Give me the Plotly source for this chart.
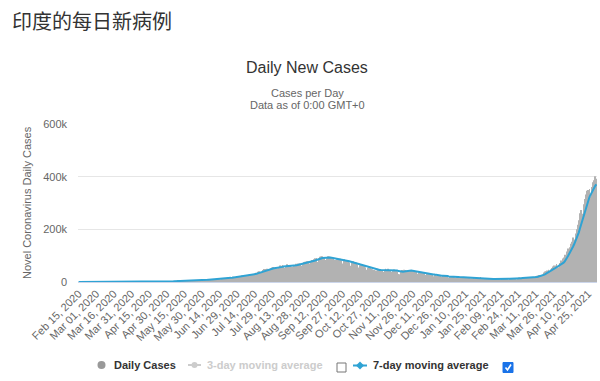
import plotly.graph_objects as go
import pandas as pd

# ---------------- data (daily new cases, India) ----------------
start_date = "2020-02-15"
cases_2020_02 = [0] * 15  # Feb 15 - Feb 29, 2020
cases_2020_03 = [0, 2, 1, 22, 2, 1, 3, 5, 9, 15, 8, 11, 9, 20, 11, 15, 23, 14, 38, 50,
                 86, 66, 103, 37, 121, 70, 160, 100, 82, 146, 309]
cases_2020_04 = [424, 486, 560, 579, 609, 484, 573, 565, 813, 871, 854, 758, 1243, 1031, 886,
                 1061, 922, 1371, 1580, 1239, 1537, 1292, 1667, 1408, 1835, 1607, 1568, 1902, 1705, 1801]
cases_2020_05 = [2396, 2564, 2952, 3656, 2971, 3602, 3344, 3339, 3175, 4311, 3592, 3562, 3726, 3991,
                 3808, 4794, 5050, 4628, 6147, 5553, 6088, 6654, 6767, 6977, 6535, 6387, 6566, 7466,
                 7964, 8380, 8392]
cases_2020_06 = [8171, 8909, 9304, 9851, 9887, 9971, 9983, 9987, 9985, 9996, 10956, 11458, 11929,
                 11502, 10667, 12881, 13586, 14516, 15413, 14821, 14933, 15968, 16922, 17296, 18552,
                 19906, 19459, 18522, 18653, 19148]
cases_2020_07 = [20903, 22771, 24850, 24248, 22252, 22752, 24879, 26506, 27114, 28637, 28701, 28498,
                 29429, 32695, 34956, 34884, 38902, 40425, 37148, 37724, 45720, 49310, 48916, 48661,
                 49931, 47703, 48513, 52123, 55079, 57118, 54735]
cases_2020_08 = [52972, 52050, 52509, 56282, 62538, 61537, 64399, 62064, 53601, 60963, 66999, 64553,
                 65002, 63490, 57981, 55079, 64531, 69652, 68898, 69878, 70488, 69239, 61408, 67151,
                 75760, 77266, 76472, 78761, 78512, 69921, 78357]
cases_2020_09 = [83883, 83341, 86432, 90632, 90802, 75809, 89706, 95735, 96551, 97570, 94372, 92071,
                 83809, 90123, 97894, 96424, 93337, 92605, 86961, 75083, 83347, 86508, 86052, 85362,
                 88600, 82170, 70589, 80472, 86821, 81484]
cases_2020_10 = [79476, 75829, 74442, 61267, 72049, 78524, 70496, 73272, 74383, 66732, 55342, 63509,
                 67708, 63371, 62212, 61871, 55722, 46790, 54044, 55839, 53370, 50129, 48585, 45148,
                 36470, 43893, 49881, 48648, 48268, 46963, 45231]
cases_2020_11 = [38310, 46253, 50210, 47638, 50356, 45674, 45903, 38073, 44281, 47905, 44879, 44684,
                 41100, 30548, 29163, 38617, 45576, 45882, 46232, 45209, 44059, 37975, 44376, 43082,
                 41322, 41810, 38772, 41468, 38575, 31118]
cases_2020_12 = [36604, 35551, 36595, 36652, 36011, 32981, 26567, 32080, 31521, 29398, 30006, 30254,
                 27071, 22065, 26382, 24010, 22890, 25152, 26624, 24337, 19556, 23950, 24712, 23067,
                 22273, 18732, 16432, 20021, 21821, 20549, 19079]
cases_2021_01 = [18177, 16505, 18088, 20346, 18139, 18222, 16311, 12584, 15968, 16946, 15158, 15590,
                 14849, 13788, 10064, 13823, 15223, 14545, 14256, 13203, 9102, 12689, 18855, 11666,
                 13083, 11039, 8635, 11427, 12899, 12408, 11713]
cases_2021_02 = [11024, 9110, 11067, 12923, 11610, 11713, 12059, 12194, 9121, 11610, 12923, 12143,
                 11649, 12881, 13993, 9093, 11610, 12881, 13193, 13993, 14264, 14199, 10584, 13742,
                 16738, 16577, 16752, 16488]
cases_2021_03 = [15510, 12286, 14989, 17407, 16838, 18327, 18711, 18599, 15388, 17921, 22854, 23285,
                 24882, 25320, 26291, 24492, 28903, 35871, 39726, 40953, 43846, 46951, 40715, 47262,
                 53476, 59118, 62258, 62714, 68020, 56211, 53480]
cases_2021_04 = [72330, 81466, 89129, 93249, 103558, 96982, 115736, 126789, 131968, 145384, 152879,
                 168912, 161736, 184372, 200739, 217353, 234692, 261500, 273810, 259170, 295041,
                 314835, 332730, 346786, 349691, 352991, 323144, 360960, 379257, 386452]
cases_2021_05 = [401993, 392488]

y_tick_vals = [0, 200000, 400000, 600000]
y_tick_text = ["0", "200k", "400k", "600k"]

page_title = "印度的每日新病例"
chart_title = "Daily New Cases"
subtitle_1 = "Cases per Day"
subtitle_2 = "Data as of 0:00 GMT+0"
y_title = "Novel Coronavirus Daily Cases"
legend_names = ["Daily Cases", "3-day moving average", "7-day moving average"]

daily = (cases_2020_02 + cases_2020_03 + cases_2020_04 + cases_2020_05 + cases_2020_06 +
         cases_2020_07 + cases_2020_08 + cases_2020_09 + cases_2020_10 + cases_2020_11 +
         cases_2020_12 + cases_2021_01 + cases_2021_02 + cases_2021_03 + cases_2021_04 +
         cases_2021_05)
dates = pd.date_range(start_date, periods=len(daily), freq="D")
s = pd.Series(daily, index=dates)
ma7 = s.rolling(7, min_periods=1).mean()

# ---------------- layout helpers (pixel -> paper) ----------------
W, H = 600, 381
L, R, T, B = 78, 3, 124, 99
PW, PH = W - L - R, H - T - B


def px(x):
    return (x - L) / PW


def py(y):
    return (H - B - y) / PH


FONT = "Liberation Sans, Arial, sans-serif"
BLUE = "#2fa3d4"

fig = go.Figure()
fig.add_trace(go.Bar(x=dates, y=daily, marker=dict(color="#b2b2b2", line=dict(width=0)),
                     name=legend_names[0], hoverinfo="skip"))
fig.add_trace(go.Scatter(x=dates, y=ma7, mode="lines", line=dict(color=BLUE, width=2),
                         name=legend_names[2], hoverinfo="skip"))

x0 = dates[0] - pd.Timedelta(hours=12)
x1 = dates[-1] + pd.Timedelta(hours=12)

fig.update_layout(
    width=W, height=H,
    margin=dict(l=L, r=R, t=T, b=B, autoexpand=False),
    paper_bgcolor="white", plot_bgcolor="white",
    showlegend=False,
    bargap=0.45,
    font=dict(family=FONT, color="#666666", size=11),
    xaxis=dict(type="date", range=[x0, x1], tick0=start_date, dtick=15 * 86400000,
               tickformat="%b %d, %Y", tickangle=-45, tickfont=dict(size=11, color="#666666"),
               showgrid=False, showline=True, linecolor="#ccd6eb", linewidth=1,
               ticks="", zeroline=False, automargin=False),
    yaxis=dict(range=[0, 600000], tickvals=y_tick_vals, ticktext=y_tick_text,
               tickfont=dict(size=11, color="#666666"), showgrid=True, gridcolor="#e6e6e6",
               zeroline=False, showline=False, ticks="", ticklabelstandoff=10, automargin=False),
)

ann = []
ann.append(dict(text=page_title, x=px(10), y=py(20), xanchor="left", yanchor="middle",
                font=dict(family="Noto Sans CJK SC", size=20, color="#333333")))
ann.append(dict(text=chart_title, x=px(307), y=py(67), xanchor="center", yanchor="middle",
                font=dict(family=FONT, size=16, color="#333333")))
ann.append(dict(text=subtitle_1, x=px(307), y=py(93), xanchor="center", yanchor="middle",
                font=dict(family=FONT, size=11, color="#666666")))
ann.append(dict(text=subtitle_2, x=px(307), y=py(104.5), xanchor="center", yanchor="middle",
                font=dict(family=FONT, size=11, color="#666666")))
ann.append(dict(text=y_title, x=px(27), y=py(203), xanchor="center", yanchor="middle",
                textangle=-90, font=dict(family=FONT, size=11, color="#666666")))
# legend texts
ann.append(dict(text="<b>%s</b>" % legend_names[0], x=px(112), y=py(365), xanchor="left",
                yanchor="middle", font=dict(family=FONT, size=11, color="#333333")))
ann.append(dict(text="<b>%s</b>" % legend_names[1], x=px(205), y=py(365), xanchor="left",
                yanchor="middle", font=dict(family=FONT, size=11, color="#cccccc")))
ann.append(dict(text="<b>%s</b>" % legend_names[2], x=px(371), y=py(365), xanchor="left",
                yanchor="middle", font=dict(family=FONT, size=11, color="#333333")))
for a in ann:
    a.update(xref="paper", yref="paper", showarrow=False)
fig.update_layout(annotations=ann)

shapes = []
# Daily Cases circle
shapes.append(dict(type="circle", x0=px(97.5), x1=px(105.5), y0=py(369), y1=py(361),
                   fillcolor="#999999", line=dict(width=0)))
# 3-day icon
shapes.append(dict(type="line", x0=px(188), x1=px(201), y0=py(365), y1=py(365),
                   line=dict(color="#cccccc", width=2)))
shapes.append(dict(type="circle", x0=px(191.5), x1=px(197.5), y0=py(368), y1=py(362),
                   fillcolor="#cccccc", line=dict(width=0)))
# unchecked box
shapes.append(dict(type="rect", x0=px(337), x1=px(346), y0=py(372), y1=py(363),
                   fillcolor="white", line=dict(color="#767676", width=1)))
# 7-day icon
shapes.append(dict(type="line", x0=px(353), x1=px(367), y0=py(365.5), y1=py(365.5),
                   line=dict(color=BLUE, width=2)))
dpath = "M %f %f L %f %f L %f %f L %f %f Z" % (px(360), py(361.5), px(364), py(365.5),
                                                px(360), py(369.5), px(356), py(365.5))
shapes.append(dict(type="path", path=dpath, fillcolor=BLUE, line=dict(width=0)))
# checked box
shapes.append(dict(type="rect", x0=px(503), x1=px(513), y0=py(372.5), y1=py(362.5),
                   fillcolor="#1a73e8", line=dict(color="#1a73e8", width=1)))
cpath = "M %f %f L %f %f L %f %f" % (px(505.5), py(367.5), px(507.5), py(370), px(511), py(364.5))
shapes.append(dict(type="path", path=cpath, line=dict(color="white", width=1.6)))
for sh in shapes:
    sh.update(xref="paper", yref="paper")
fig.update_layout(shapes=shapes)

fig.write_html("out.html", config={"displayModeBar": False},
               post_script="document.body.style.margin='0';document.body.style.overflow='hidden';")
